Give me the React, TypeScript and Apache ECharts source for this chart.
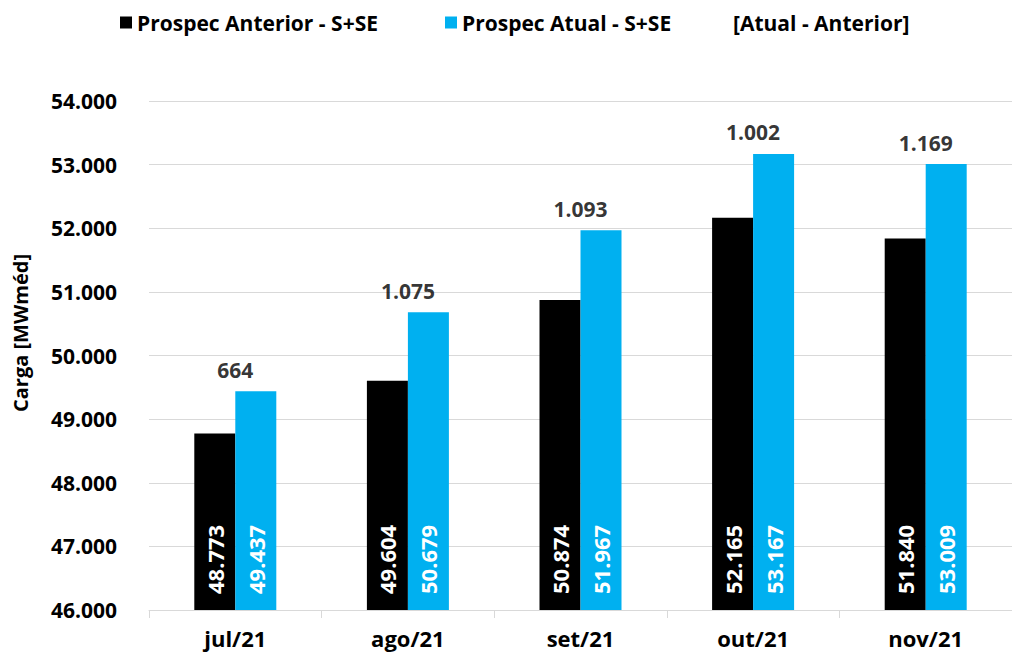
import React, { useEffect, useRef } from "react";
import * as echarts from "echarts";

const categories = ["jul/21", "ago/21", "set/21", "out/21", "nov/21"];
const anterior = [48773, 49604, 50874, 52165, 51840];
const atual = [49437, 50679, 51967, 53167, 53009];
const diffs = [664, 1075, 1093, 1002, 1169];
const yTicks = { min: 46000, max: 54000, interval: 1000 };
const seriesNames = ["Prospec Anterior - S+SE", "Prospec Atual - S+SE", "[Atual - Anterior]"];

const fmt = (n: number) => String(n).replace(/\B(?=(\d{3})+(?!\d))/g, ".");
const FONT = "Open Sans";

export default function App() {
  const ref = useRef<HTMLDivElement>(null);
  useEffect(() => {
    if (!ref.current) return;
    const chart = echarts.init(ref.current, undefined, { renderer: "svg" });
    const insideLabel = {
      show: true,
      position: "insideBottom",
      rotate: 90,
      align: "left",
      verticalAlign: "middle",
      distance: 16,
      color: "#fff",
      fontFamily: FONT,
      fontWeight: "bold",
      fontSize: 22,
      formatter: (p: any) => fmt(p.value),
    };
    const legendText = { fontFamily: FONT, fontWeight: "bold", fontSize: 21, color: "#000" };
    chart.setOption({
      animation: false,
      backgroundColor: "#fff",
      textStyle: { fontFamily: FONT },
      legend: [
        {
          left: 115,
          top: 7,
          itemWidth: 12,
          itemHeight: 12,
          itemGap: 5,
          textStyle: legendText,
          data: [{ name: seriesNames[0], icon: "rect" }],
        },
        {
          left: 440,
          top: 7,
          itemWidth: 12,
          itemHeight: 12,
          textStyle: legendText,
          data: [{ name: seriesNames[1], icon: "rect" }],
        },
        {
          left: 711,
          top: 7,
          itemWidth: 12,
          itemHeight: 12,
          textStyle: legendText,
          data: [{ name: seriesNames[2], icon: "none" }],
        },
      ],
      grid: { left: 149, top: 101, width: 871, height: 509, containLabel: false },
      xAxis: {
        type: "category",
        data: categories,
        axisLine: { lineStyle: { color: "#d9d9d9" } },
        axisTick: { show: true, length: 8, lineStyle: { color: "#d9d9d9" } },
        axisLabel: { color: "#000", fontFamily: FONT, fontWeight: "bold", fontSize: 22, margin: 17 },
      },
      yAxis: {
        type: "value",
        min: yTicks.min,
        max: yTicks.max,
        interval: yTicks.interval,
        axisLine: { show: false },
        axisTick: { show: false },
        splitLine: { lineStyle: { color: "#d9d9d9" } },
        axisLabel: {
          color: "#000",
          fontFamily: FONT,
          fontWeight: "bold",
          fontSize: 21,
          margin: 32,
          formatter: (v: number) => fmt(v),
        },
      },
      graphic: [
        {
          type: "text",
          x: 20,
          y: 333,
          rotation: Math.PI / 2,
          style: {
            text: "Carga [MWméd]",
            fontFamily: FONT,
            fontWeight: "bold",
            fontSize: 20,
            fill: "#000",
            align: "center",
            verticalAlign: "middle",
          },
        },
      ],
      series: [
        {
          name: seriesNames[0],
          type: "bar",
          data: anterior,
          barWidth: 41,
          barGap: "0%",
          itemStyle: { color: "#000" },
          label: insideLabel,
        },
        {
          name: seriesNames[1],
          type: "bar",
          data: atual,
          barWidth: 41,
          barGap: "0%",
          itemStyle: { color: "#00B0F0" },
          label: insideLabel,
        },
        {
          name: seriesNames[2],
          type: "scatter",
          data: atual,
          symbolSize: 0,
          itemStyle: { color: "#000" },
          label: {
            show: true,
            position: "top",
            distance: 11,
            color: "#000",
            fontFamily: FONT,
            fontWeight: "bold",
            fontSize: 21,
            formatter: (p: any) => fmt(diffs[p.dataIndex]),
          },
        },
      ],
    });
    return () => chart.dispose();
  }, []);
  return (
    <div
      ref={ref}
      style={{ position: "fixed", left: 0, top: 0, width: 1012, height: 654 }}
    />
  );
}
